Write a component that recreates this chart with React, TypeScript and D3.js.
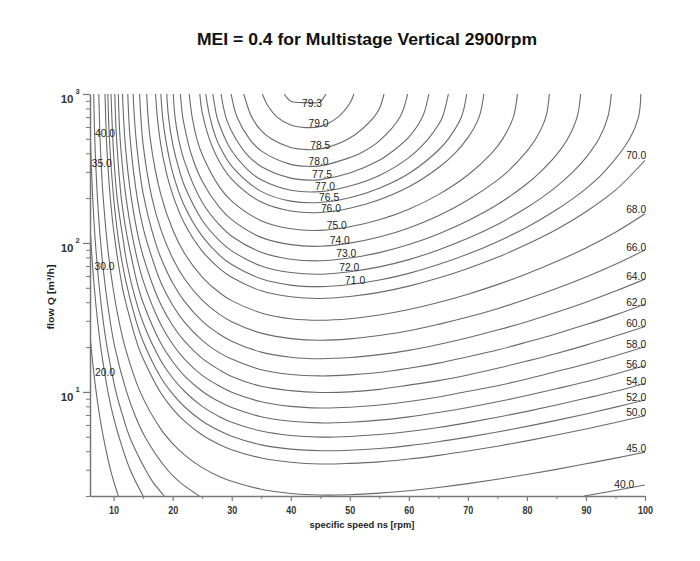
import { useRef, useEffect } from 'react';
import * as d3 from 'd3';

// contour points: [specific speed ns (rpm), flow Q (m3/h)]
type Pt = [number, number];

const c20: Pt[] = [[6, 24.2], [6.19, 20], [6.51, 15], [7.04, 10], [7.61, 7], [8.25, 5], [9.47, 3], [10.8, 2]];
const c30: Pt[] = [[6, 131], [6.17, 100], [6.73, 50], [7.28, 30], [7.82, 20], [9.04, 10], [9.88, 7], [10.9, 5], [12.8, 3], [15, 2]];
const c35: Pt[] = [[6, 646], [6.07, 500], [6.46, 200], [6.92, 100], [7.58, 50], [8.23, 30], [8.89, 20], [10.4, 10], [11.5, 7], [12.7, 5], [15.4, 3], [16.6, 2.5], [18.6, 2]];
const c40a: Pt[] = [[6.63, 1000], [6.81, 500], [7.26, 200], [7.81, 100], [8.61, 50], [9.41, 30], [10.2, 20], [12.2, 10], [13.6, 7], [15.3, 5], [19.1, 3], [21.1, 2.5], [24.5, 2]];
const c40b: Pt[] = [[89.7, 2], [95, 2.18], [100, 2.37]];
const c45: Pt[] = [[7.49, 1000], [7.7, 500], [8, 280], [8.24, 200], [9, 92.6], [10, 47], [10.9, 30], [12, 19.6], [14.5, 10], [18, 5.62], [20, 4.5], [22, 3.78], [25, 3.1], [28, 2.69], [30, 2.51], [35, 2.22], [40, 2.08], [45, 2.03], [50, 2.04], [55, 2.09], [60, 2.17], [65, 2.28], [70, 2.42], [75, 2.59], [80, 2.79], [85, 3.02], [90, 3.29], [95, 3.59], [100, 3.94]];
const c50: Pt[] = [[8.54, 1000], [8.78, 500], [9, 344], [9.44, 200], [10, 122], [11.5, 50], [12, 40.7], [14.2, 20], [15, 16.7], [18, 9.83], [20, 7.69], [22, 6.36], [25, 5.14], [28, 4.42], [30, 4.09], [35, 3.6], [40, 3.37], [45, 3.28], [50, 3.31], [55, 3.39], [60, 3.54], [65, 3.75], [70, 4.01], [75, 4.32], [80, 4.69], [85, 5.13], [90, 5.64], [95, 6.23], [100, 6.92]];
const c52: Pt[] = [[9.02, 1000], [9.29, 500], [10, 202], [10.9, 100], [12, 57], [13.8, 30], [15, 21.8], [18, 12.5], [20, 9.7], [22, 7.95], [25, 6.38], [28, 5.46], [30, 5.04], [35, 4.41], [40, 4.13], [45, 4.03], [50, 4.06], [55, 4.17], [60, 4.36], [65, 4.63], [70, 4.97], [75, 5.38], [80, 5.87], [85, 6.44], [90, 7.11], [95, 7.9], [100, 8.83]];
const c54: Pt[] = [[9.56, 1000], [10, 394], [10.6, 200], [11.7, 100], [12, 83], [13.2, 50], [15, 29.1], [18, 16.2], [20, 12.4], [22, 10.1], [25, 7.99], [28, 6.79], [30, 6.26], [35, 5.46], [40, 5.1], [45, 4.97], [50, 5.02], [55, 5.17], [60, 5.42], [65, 5.77], [70, 6.22], [75, 6.76], [80, 7.4], [85, 8.17], [90, 9.07], [95, 10.1], [100, 11.4]];
const c56: Pt[] = [[10.2, 1000], [10.5, 500], [11.3, 200], [12, 128], [12.5, 100], [14.2, 50], [15, 39.7], [18, 21.2], [20, 16], [22, 12.8], [25, 10.1], [28, 8.54], [30, 7.85], [35, 6.81], [40, 6.35], [45, 6.19], [50, 6.26], [55, 6.46], [60, 6.8], [65, 7.27], [70, 7.86], [75, 8.58], [80, 9.45], [85, 10.5], [90, 11.7], [95, 13.2], [100, 15]];
const c58: Pt[] = [[10.8, 1000], [11.1, 500], [12, 216], [13.4, 100], [15, 55.8], [18, 28.3], [20, 20.9], [22, 16.6], [25, 12.9], [28, 10.9], [30, 9.94], [35, 8.59], [40, 7.99], [45, 7.79], [50, 7.88], [55, 8.16], [60, 8.61], [65, 9.25], [70, 10.1], [75, 11], [80, 12.2], [85, 13.7], [90, 15.4], [95, 17.5], [100, 20.1]];
const c60: Pt[] = [[11.5, 1000], [12, 445], [13, 200], [14.4, 100], [15, 81.6], [16.8, 50], [18, 38.6], [20, 27.9], [22, 21.9], [25, 16.8], [28, 14], [30, 12.7], [35, 10.9], [40, 10.2], [45, 9.91], [50, 10], [55, 10.4], [60, 11.1], [65, 11.9], [70, 13], [75, 14.4], [80, 16.1], [85, 18.1], [90, 20.6], [95, 23.7], [100, 27.5]];
const c62: Pt[] = [[12.4, 1000], [12.8, 500], [14, 200], [15, 126], [15.7, 100], [18, 54.3], [20, 38.2], [22, 29.4], [25, 22.2], [28, 18.2], [30, 16.6], [35, 14.1], [40, 13.1], [45, 12.8], [50, 13], [55, 13.5], [60, 14.4], [65, 15.6], [70, 17.2], [75, 19.1], [80, 21.6], [85, 24.6], [90, 28.3], [95, 32.9], [100, 38.8]];
const c64: Pt[] = [[13.3, 1000], [13.8, 500], [15, 215], [17.1, 100], [18, 79.5], [20, 53.8], [22, 40.5], [25, 29.9], [28, 24.3], [30, 21.9], [35, 18.5], [40, 17.1], [45, 16.7], [50, 17], [55, 17.8], [60, 19], [65, 20.8], [70, 23.1], [75, 26], [80, 29.6], [85, 34.2], [90, 40], [95, 47.5], [100, 57.2]];
const c66: Pt[] = [[14.4, 1000], [15, 457], [16.5, 200], [18, 123], [20, 78.9], [22, 57.5], [25, 41.3], [28, 33], [30, 29.6], [35, 24.8], [40, 22.8], [45, 22.2], [50, 22.7], [55, 23.9], [60, 25.7], [65, 28.4], [70, 31.8], [75, 36.2], [80, 42], [85, 49.4], [90, 59], [95, 71.9], [100, 89.7]];
const c68: Pt[] = [[15.6, 1000], [16.2, 500], [18, 211], [20, 123], [22, 85.3], [25, 59], [28, 46.1], [30, 41], [35, 33.9], [40, 31], [45, 30.3], [50, 31], [55, 32.8], [60, 35.7], [65, 39.8], [70, 45.3], [75, 52.5], [80, 62.1], [85, 75], [90, 92.6], [95, 118], [100, 157]];
const c70: Pt[] = [[17.1, 1000], [17.4, 700], [18, 454], [18.9, 300], [20, 211], [22, 135], [25, 88.2], [28, 67], [30, 58.8], [35, 47.7], [40, 43.5], [45, 42.4], [50, 43.7], [55, 46.6], [60, 51.3], [65, 58.1], [70, 67.4], [75, 80.1], [80, 97.9], [85, 123], [90, 162], [95, 226], [100, 359]];
const c71: Pt[] = [[18, 1000], [18.3, 700], [18.8, 500], [20, 297], [22, 177], [25, 111], [28, 82.2], [30, 71.6], [35, 57.5], [40, 52.1], [45, 50.9], [50, 52.6], [55, 56.4], [60, 62.5], [65, 71.6], [70, 84.2], [75, 102], [80, 127.6], [85, 167], [87.9, 200], [90, 231.5], [93.1, 300], [97.4, 500], [98.9, 700], [99.3, 1000]];
const c72: Pt[] = [[19, 1000], [19.3, 700], [20, 462.5], [21.2, 300], [22, 242], [25, 142], [28, 103], [30, 88.5], [35, 70.1], [40, 63.3], [45, 61.7], [50, 64.1], [55, 69.1], [60, 77.3], [65, 89.8], [70, 107.5], [75, 133], [80, 173], [82.4, 200], [85, 239], [87.8, 300], [90, 374], [92.2, 500], [93.7, 700], [94.3, 1000]];
const c73: Pt[] = [[20.1, 1000], [20.4, 700], [21, 500], [22, 353], [25, 187.5], [28, 131], [30, 111], [35, 86.6], [40, 77.8], [45, 75.9], [50, 79.2], [55, 86.1], [60, 97.5], [65, 115], [70, 141], [75, 181], [80, 249.5], [82.3, 300], [85, 390], [86.9, 500], [88.5, 700], [89.1, 1000]];
const c74: Pt[] = [[21.3, 1000], [21.7, 700], [22, 606.5], [23.1, 400], [25, 260], [28, 172], [30, 143.5], [35, 109], [40, 97.4], [45, 95], [50, 99.7], [55, 109.5], [60, 126], [65, 152], [70, 194], [75, 264], [76.7, 300], [80, 413], [81.5, 500], [83.2, 700], [83.8, 1000]];
const c75: Pt[] = [[22.8, 1000], [23.3, 700], [24.1, 500], [25, 392], [28, 235], [30, 191], [35, 141], [40, 124.5], [45, 121.5], [50, 128.5], [55, 143], [60, 168.5], [65, 211], [70, 286], [74, 400], [75.9, 500], [77.7, 700], [78.4, 1000]];
const c76: Pt[] = [[24.6, 1000], [25, 752], [26.2, 500], [28, 347], [30, 268.5], [35, 188], [40, 164], [45, 160], [50, 171], [55, 195], [60, 238], [65, 320], [67.8, 400], [70, 509], [71.9, 700], [72.7, 1000]];
const c765: Pt[] = [[25.6, 1000], [26.3, 700], [27.4, 500], [28, 443], [30, 328], [35, 222], [40, 191], [45, 187], [50, 201], [55, 233], [60, 292.5], [65, 419], [66.7, 500], [68.9, 700], [69.8, 1000]];
const c77: Pt[] = [[26.8, 1000], [27.5, 700], [28, 610], [28.9, 500], [30, 416], [33.1, 300], [35, 265.5], [40, 226], [45, 221], [50, 241], [55, 284], [60, 374], [63.3, 500], [65, 621], [65.7, 700], [66.7, 1000]];
const c775: Pt[] = [[28.2, 1000], [29, 700], [30, 562], [30.7, 500], [32.4, 400], [35, 326], [40, 272.5], [43.2, 264], [45, 266], [50, 295], [55, 359], [56.8, 400], [60, 514], [62.3, 700], [63.4, 1000]];
const c78: Pt[] = [[29.9, 1000], [30.9, 700], [33, 500], [35, 415], [40, 337], [43.1, 327], [45, 329], [50, 374], [51.8, 400], [55, 484], [58.5, 700], [59.8, 1000]];
const c785: Pt[] = [[32.05, 1000], [33.4, 700], [35, 567], [36.7, 500], [40, 437], [42.9, 423], [45, 427], [50, 506], [54.1, 700], [55, 795], [55.8, 1000]];
const c79: Pt[] = [[35.2, 1000], [36, 850], [37.7, 700], [40, 620], [42.6, 595], [45, 606], [48, 700], [50, 866], [50.7, 1000]];
const c793: Pt[] = [[38.9, 1000], [39.3, 950], [40, 895], [42.4, 875], [45, 885], [45.6, 950], [46, 1000]];

const contourLines: Pt[][] = [
  c20, c30, c35, c40a, c40b, c45, c50, c52, c54, c56, c58, c60, c62, c64, c66, c68,
  c70, c71, c72, c73, c74, c75, c76, c765, c77, c775, c78, c785, c79, c793,
];

// contour labels, placed in data units
const labelText = [
  '79.3', '79.0', '78.5', '78.0', '77.5', '77.0', '76.5', '76.0', '75.0', '74.0', '73.0', '72.0', '71.0',
  '40.0', '35.0', '30.0', '20.0',
  '70.0', '68.0', '66.0', '64.0', '62.0', '60.0', '58.0', '56.0', '54.0', '52.0', '50.0', '45.0', '40.0',
];
const labelNs = [
  43.6, 44.7, 45.0, 44.7, 45.3, 45.8, 46.5, 46.8, 47.8, 48.3, 49.4, 49.9, 50.9,
  8.54, 7.98, 8.45, 8.54,
  98.5, 98.5, 98.5, 98.5, 98.5, 98.5, 98.5, 98.5, 98.5, 98.5, 98.5, 98.5, 96.5,
];
const labelQ = [
  875, 637, 455, 357, 292, 242, 205, 171, 132, 105, 85.3, 69.3, 56.5,
  546, 346, 70.1, 13.7,
  390, 168, 94.5, 60.3, 40.4, 29.0, 21.0, 15.4, 11.8, 9.29, 7.33, 4.18, 2.4,
];

const xMajorTicks = [10, 20, 30, 40, 50, 60, 70, 80, 90, 100];
const xMinorTicks = [15, 25, 35, 45, 55, 65, 75, 85, 95];
const yMajorTicks = [10, 100, 1000];
const yTickExp = ['1', '2', '3'];
const yMinorTicks = [2, 3, 4, 5, 6, 7, 8, 9, 20, 30, 40, 50, 60, 70, 80, 90, 200, 300, 400, 500, 600, 700, 800, 900];

const FONT = '"Liberation Sans", Arial, Helvetica, sans-serif';

export default function App() {
  const svgRef = useRef<SVGSVGElement>(null);

  useEffect(() => {
    if (!svgRef.current) return;
    const svg = d3.select(svgRef.current);
    svg.selectAll('*').remove();

    const x = d3.scaleLinear().domain([6, 100]).range([90, 645]);
    const y = d3.scaleLog().domain([2, 1000]).range([496, 94]);

    // Title
    svg.append('text')
      .attr('x', 367).attr('y', 45)
      .attr('text-anchor', 'middle')
      .attr('textLength', 340).attr('lengthAdjust', 'spacingAndGlyphs')
      .style('font', `bold 16.5px ${FONT}`).attr('fill', '#111')
      .text('MEI = 0.4 for Multistage Vertical 2900rpm');

    svg.append('defs').append('clipPath').attr('id', 'plot-clip')
      .append('rect')
      .attr('x', x(6)).attr('y', y(1000))
      .attr('width', x(100) - x(6)).attr('height', y(2) - y(1000));

    // Contours
    const line = d3.line<Pt>()
      .x((d) => x(d[0]))
      .y((d) => y(d[1]))
      .curve(d3.curveCatmullRom.alpha(0.5));

    const g = svg.append('g').attr('clip-path', 'url(#plot-clip)');
    contourLines.forEach((pts) => {
      g.append('path')
        .datum(pts)
        .attr('d', line)
        .attr('fill', 'none')
        .attr('stroke', '#6a6a6a')
        .attr('stroke-width', 1.1);
    });

    // Contour labels
    labelText.forEach((t, i) => {
      svg.append('text')
        .attr('x', x(labelNs[i])).attr('y', y(labelQ[i]))
        .attr('text-anchor', 'middle')
        .attr('dominant-baseline', 'central')
        .attr('textLength', 20).attr('lengthAdjust', 'spacingAndGlyphs')
        .style('font', `10.5px ${FONT}`).attr('fill', '#222')
        .text(t);
    });

    // X axis
    const styleAxis = (sel: d3.Selection<SVGGElement, unknown, null, undefined>) => {
      sel.select('.domain').attr('stroke', '#777').attr('stroke-width', 1.5);
      sel.selectAll('.tick line').attr('stroke', '#777').attr('stroke-width', 1.2);
      sel.selectAll('.tick text').attr('fill', '#333');
    };
    svg.append('g')
      .attr('transform', `translate(0,${y(2)})`)
      .call(d3.axisBottom(x).tickValues(xMinorTicks).tickSize(3).tickSizeOuter(0).tickFormat(() => ''))
      .call((s) => { s.select('.domain').remove(); s.selectAll('line').attr('stroke', '#777'); });
    svg.append('g')
      .attr('transform', `translate(0,${y(2)})`)
      .call(d3.axisBottom(x).tickValues(xMajorTicks).tickSize(5).tickSizeOuter(0).tickPadding(6).tickFormat(d3.format('d')))
      .call(styleAxis)
      .call((s) => s.selectAll('.tick text')
        .style('font', `bold 10.5px ${FONT}`)
        .attr('textLength', (d) => String(d).length * 5)
        .attr('lengthAdjust', 'spacingAndGlyphs'));

    // Y axis
    svg.append('g')
      .attr('transform', `translate(${x(6)},0)`)
      .call(d3.axisLeft(y).tickValues(yMinorTicks).tickSize(4).tickSizeOuter(0).tickFormat(() => ''))
      .call((s) => { s.select('.domain').remove(); s.selectAll('line').attr('stroke', '#777'); });
    svg.append('g')
      .attr('transform', `translate(${x(6)},0)`)
      .call(d3.axisLeft(y).tickValues(yMajorTicks).tickSize(7).tickSizeOuter(0).tickFormat(() => ''))
      .call(styleAxis);

    yMajorTicks.forEach((t, i) => {
      svg.append('text')
        .attr('x', 73.5).attr('y', y(t) + 5)
        .attr('text-anchor', 'end').attr('dominant-baseline', 'central')
        .style('font', `bold 11.5px ${FONT}`).attr('fill', '#333')
        .text('10');
      svg.append('text')
        .attr('x', 75.5).attr('y', y(t) - 2.5)
        .attr('text-anchor', 'start').attr('dominant-baseline', 'central')
        .style('font', `bold 7.5px ${FONT}`).attr('fill', '#333')
        .text(yTickExp[i]);
    });

    // Axis titles
    svg.append('text')
      .attr('x', 362).attr('y', 528)
      .attr('text-anchor', 'middle')
      .attr('textLength', 105).attr('lengthAdjust', 'spacingAndGlyphs')
      .style('font', `bold 9px ${FONT}`).attr('fill', '#222')
      .text('specific speed ns [rpm]');
    svg.append('text')
      .attr('transform', 'translate(54,297) rotate(-90)')
      .attr('text-anchor', 'middle')
      .attr('textLength', 65).attr('lengthAdjust', 'spacingAndGlyphs')
      .style('font', `bold 9px ${FONT}`).attr('fill', '#222')
      .text('flow Q [m³/h]');
  }, []);

  return (
    <svg
      ref={svgRef}
      width={700}
      height={561}
      style={{ position: 'absolute', left: 0, top: 0, background: '#fff' }}
    />
  );
}
